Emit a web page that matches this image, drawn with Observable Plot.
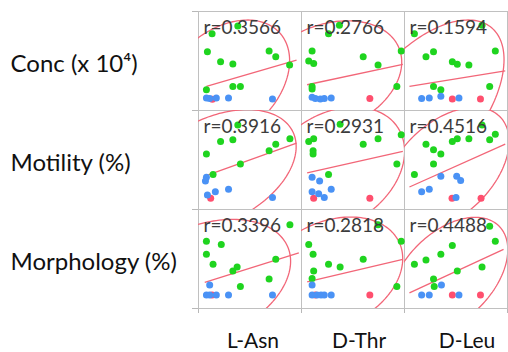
<!DOCTYPE html>
<html><head><meta charset="utf-8">
<script src="https://cdn.jsdelivr.net/npm/d3@7"></script>
<script src="https://cdn.jsdelivr.net/npm/@observablehq/plot@0.6"></script>
<style>body{margin:0;background:#fff}</style>
</head><body><div id="chart"></div>
<script>
const rowNames = ["Conc (x 10⁴)", "Motility (%)", "Morphology (%)"];
const colNames = ["L-Asn", "D-Thr", "D-Leu"];
const rValues = [[0.3566, 0.2766, 0.1594], [0.3916, 0.2931, 0.4516], [0.3396, 0.2818, 0.4488]];
const groupNames = ["r", "g", "b"];

// points per panel: [x, y, group]
const concAsn = [[13.7,77.6,"g"],[39.7,85.3,"g"],[9,59.3,"g"],[22.3,49.3,"g"],[34.7,47,"g"],[71.3,60,"g"],[78,54.3,"g"],[92,46,"g"],[8,21,"g"],[34.7,24.3,"g"],[42.3,24.3,"g"],
  [8,12.6,"b"],[11.3,12,"b"],[18,12.6,"b"],[30.3,12.6,"b"],[74.7,11.6,"b"],[14,11.3,"r"]];
const concThr = [[27.3,77.6,"g"],[38.3,86,"g"],[10.7,60,"g"],[7.3,50,"g"],[12.3,47.6,"g"],[62.3,54.3,"g"],[77.3,46,"g"],[100.7,60,"g"],[10.7,24.3,"g"],[10.7,21.6,"g"],[96.3,24.3,"g"],
  [10.7,13.3,"b"],[14,12,"b"],[19,11.6,"b"],[23,12,"b"],[30,12.6,"b"],[69,12,"r"]];
const concLeu = [[10,77.6,"g"],[78.3,86,"g"],[21.7,54.3,"g"],[29.3,59.3,"g"],[48.3,49.3,"g"],[53.3,46.6,"g"],[65,46,"g"],[91.7,60,"g"],[29.3,24.3,"g"],[36.7,21,"g"],[86,24.3,"g"],
  [17.3,12,"b"],[25,12.6,"b"],[36.7,14.3,"b"],[55,12.6,"b"],[48.3,11.6,"r"],[76.7,11.6,"r"]];
const motAsn = [[39.7,85.4,"g"],[22.3,68.7,"g"],[34.7,70.4,"g"],[8,56,"g"],[42.3,46,"g"],[71.3,59.4,"g"],[78,66,"g"],[92.3,71.4,"g"],[14.7,35.4,"g"],
  [8,32.7,"b"],[7,28.7,"b"],[9,14.7,"b"],[17,18,"b"],[30.3,20.4,"b"],[74.7,12,"b"],[12.3,11.4,"r"]];
const motThr = [[39,86,"g"],[7.3,68.7,"g"],[12.3,71.4,"g"],[11.7,59.4,"g"],[11.7,56,"g"],[62.3,66,"g"],[77.3,71.4,"g"],[100.7,75.4,"g"],[27.3,35.4,"g"],[96.3,46,"g"],
  [10.7,32.7,"b"],[18.3,28.7,"b"],[10.7,18,"b"],[17.3,16,"b"],[23,12,"b"],[30,20.4,"b"],[12.3,11.4,"r"],[69,11.4,"r"]];
const motLeu = [[78.3,85.4,"g"],[21.7,66,"g"],[29.3,60.4,"g"],[36.7,56,"g"],[48.3,68.7,"g"],[53.3,71.4,"g"],[65,71.4,"g"],[86,70.4,"g"],[91.7,76,"g"],[29.3,46,"g"],[10,35.4,"g"],
  [36.7,33.7,"b"],[52.7,33.7,"b"],[56.7,29.4,"b"],[17.3,18,"b"],[25,20.4,"b"],[52,12,"b"],[48,11.4,"r"],[77.3,11.4,"r"]];
const morAsn = [[92.3,84.7,"g"],[8,68,"g"],[23,64.7,"g"],[8,54.7,"g"],[14.7,44.7,"g"],[34.7,38,"g"],[39,42,"g"],[78,49.7,"g"],[71.3,29.7,"g"],[42.3,22.3,"g"],
  [11.3,23.7,"b"],[8,13.7,"b"],[11.3,13.7,"b"],[18,13.7,"b"],[30.3,13.7,"b"],[74.7,13.7,"b"],[13.7,13.7,"r"]];
const morThr = [[77.3,84.7,"g"],[7.3,64.7,"g"],[11.7,54.7,"g"],[12.3,38,"g"],[27.3,44.7,"g"],[39,42,"g"],[62.3,49.7,"g"],[100.7,68,"g"],[96.3,22.3,"g"],[10.7,30.3,"g"],
  [10.7,23.7,"b"],[10.7,13.7,"b"],[15.7,13.7,"b"],[19.7,13.7,"b"],[23,13.7,"b"],[30,13.7,"b"],[14,13.7,"r"],[69,13.7,"r"]];
const morLeu = [[86,83,"g"],[91.7,68,"g"],[48.3,63.7,"g"],[10,44.7,"g"],[21.7,49,"g"],[36.7,54.7,"g"],[53.3,38,"g"],[78.3,42,"g"],[29.3,29.7,"g"],[30,22.3,"g"],
  [37.3,23.7,"b"],[17.3,13.7,"b"],[25,13.7,"b"],[55,13.7,"b"],[48.3,13.7,"r"],[76.7,13.7,"r"]];
const panelPoints = [[concAsn, concThr, concLeu], [motAsn, motThr, motLeu], [morAsn, morThr, morLeu]];

// fitted lines per panel: [x1, y1, x2, y2]
const fitLines = [
  [[8,24.3,99,51], [5.7,26,102.3,46.6], [5,24.3,101.7,40]],
  [[6.3,33.7,99,67], [5.7,37,102.3,58.7], [5,22.7,101.7,66]],
  [[6.3,26.3,101.3,56.3], [5.7,27,102.3,49.7], [5,15.7,100,59.7]]
];
// density ellipses per panel: [centre x, centre y, half-width, half-height, shape correlation]
const ellipses = [
  [[25.8,27.6,66.2,63.8,0.3566], [25.6,33.0,75.6,57.6,0.2766], [18.4,0.8,82.1,90.6,0.558]],
  [[17.4,39.4,81.2,61.5,0.3916], [32.3,40.2,71.8,63.3,0.2931], [41.9,40.5,63.7,62.7,0.4516]],
  [[4.2,26.0,88.8,64.0,0.3396], [28.9,34.0,73.3,58.4,0.2818], [44.7,32.7,59.6,59.4,0.4488]]
];

const pts = [], fits = [], ell = [], rtext = [];
rowNames.forEach((rn, i) => colNames.forEach((cn, j) => {
  panelPoints[i][j].forEach(([x, y, g]) => pts.push({x, y, g, row: rn, col: cn}));
  const [x1, y1, x2, y2] = fitLines[i][j];
  fits.push({x1, y1, x2, y2, row: rn, col: cn});
  const [mx, my, X, Y, rho] = ellipses[i][j];
  const a1 = Math.sqrt(1 + rho), b1 = Math.sqrt(1 - rho);
  for (let k = 0; k <= 180; k++) {
    const t = k / 180 * 2 * Math.PI;
    const p = (a1 * Math.cos(t) - b1 * Math.sin(t)) / Math.SQRT2;
    const q = (a1 * Math.cos(t) + b1 * Math.sin(t)) / Math.SQRT2;
    ell.push({x: mx + X * p, y: my + Y * q, key: rn + cn, row: rn, col: cn});
  }
  rtext.push({t: "r=" + rValues[i][j].toFixed(4), row: rn, col: cn});
}));
pts.sort((p, q) => groupNames.indexOf(p.g) - groupNames.indexOf(q.g));

const colDx = [3, 6, 11];
const chart = Plot.plot({
  width: 508, height: 352,
  marginLeft: 197, marginRight: 0, marginTop: 10, marginBottom: 44,
  x: {domain: [0, 104], axis: null},
  y: {domain: [0, 100], axis: null},
  fx: {domain: colNames, padding: 0, axis: null},
  fy: {domain: rowNames, padding: 0, axis: null},
  color: {domain: groupNames, range: ["#ff4f6e", "#1fd41f", "#4a92f5"]},
  style: {fontFamily: "Lato, sans-serif", background: "white"},
  marks: [
    Plot.ruleX([0, 104], {stroke: "#b8b8b8", insetBottom: -5}),
    Plot.ruleY([0, 100], {stroke: "#b8b8b8", insetLeft: -6}),
    Plot.frame({stroke: "#c0c0c0"}),
    Plot.line(ell, {x: "x", y: "y", z: "key", fx: "col", fy: "row", stroke: "#f26678", strokeWidth: 1.3, clip: true}),
    Plot.link(fits, {x1: "x1", y1: "y1", x2: "x2", y2: "y2", fx: "col", fy: "row", stroke: "#f26678", strokeWidth: 1.3, clip: true}),
    Plot.dot(pts, {x: "x", y: "y", fx: "col", fy: "row", fill: "g", r: 3.5}),
    Plot.text(rtext, {text: "t", fx: "col", fy: "row", frameAnchor: "top-left", lineAnchor: "top", textAnchor: "start", dx: 5, dy: 9, fontSize: 19, fill: "#3c3c3c"}),
    Plot.text(rowNames, {text: d => d, fy: d => d, fx: () => colNames[0], frameAnchor: "left", textAnchor: "start", lineAnchor: "middle", dx: -188, dy: 3, fontSize: 24, fill: "#111"}),
    ...colNames.map((c, j) => Plot.text([c], {text: d => d, fx: d => d, fy: () => rowNames[2], frameAnchor: "bottom", lineAnchor: "bottom", dy: 39, dx: colDx[j], fontSize: 21, fill: "#111"}))
  ]
});
document.getElementById("chart").appendChild(chart);
</script>
</body></html>
